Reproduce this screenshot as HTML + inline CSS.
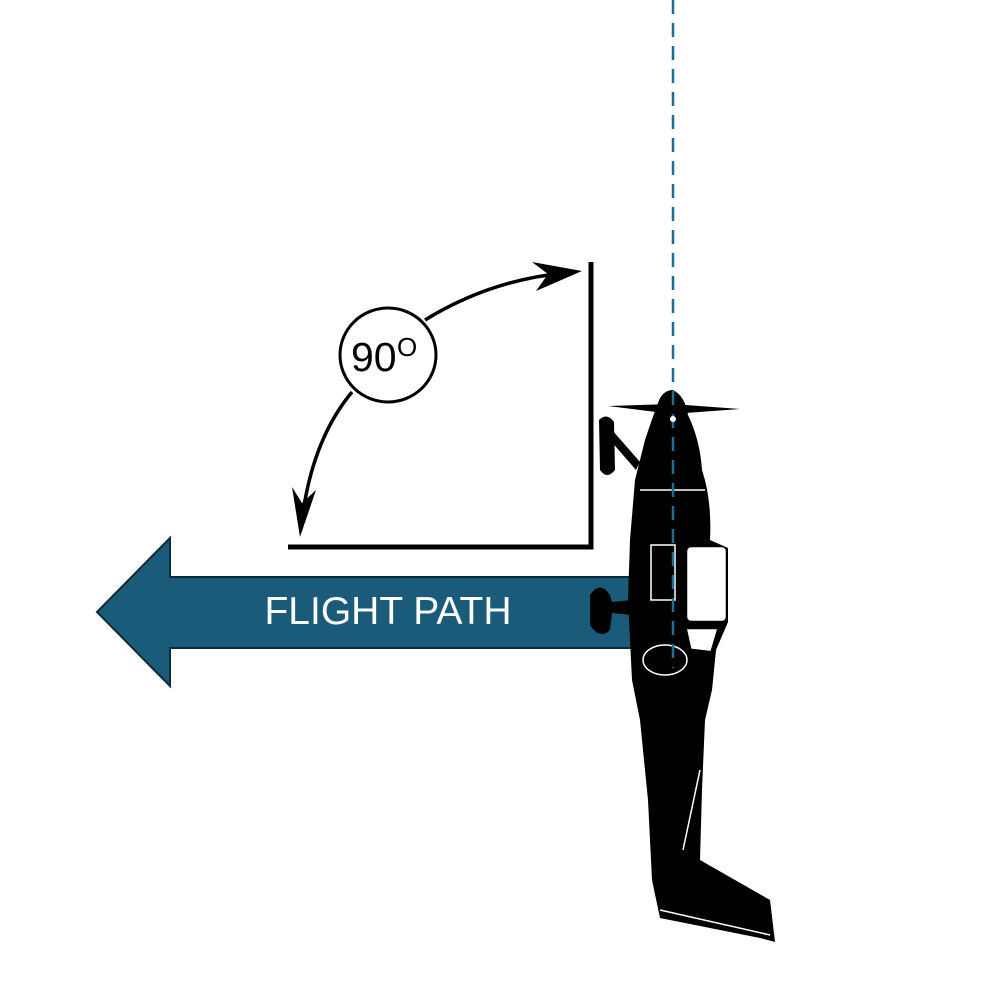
<!DOCTYPE html>
<html><head><style>html,body{margin:0;padding:0;background:#fff}</style></head>
<body>
<svg width="1000" height="1000" viewBox="0 0 1000 1000" xmlns="http://www.w3.org/2000/svg">
<!-- angle lines -->
<path d="M591 262 V547 H288" fill="none" stroke="#000" stroke-width="5"/>
<!-- arcs -->
<path d="M425 320 Q490 280 565 273" fill="none" stroke="#000" stroke-width="3.5"/>
<polygon points="582,271 532,262 548,274 536,291" fill="#000"/>
<path d="M352 392 Q312 440 302 520" fill="none" stroke="#000" stroke-width="3.5"/>
<polygon points="300,537 292,487 302,503 316,490" fill="#000"/>
<ellipse cx="388" cy="355" rx="48" ry="47" fill="#fff" stroke="#000" stroke-width="3"/>
<text x="351" y="371" font-family="Liberation Sans, sans-serif" font-size="41" fill="#000">90</text>
<text x="397" y="356" font-family="Liberation Sans, sans-serif" font-size="26" fill="#000">O</text>
<!-- flight path arrow -->
<polygon points="97,612 170,538 170,577 636,577 636,648 170,648 170,686" fill="#1b5b7a" stroke="#0c2a3a" stroke-width="2"/>
<text x="388" y="624" text-anchor="middle" font-family="Liberation Sans, sans-serif" font-size="39" fill="#fff">FLIGHT PATH</text>
<!-- airplane -->
<g fill="#000">
  <path d="M608 406 L672 404 L740 409 L672 414 Z"/>
  <path d="M599 420 Q607 412 614 422 L615 470 Q607 480 600 470 Z"/>
  <path d="M612 430 L640 462 L636 470 L610 440 Z"/>
  <path d="M673 390 Q685 396 688 415 Q700 440 702 470 Q712 500 710 540 L728 548 L728 622 L716 650 L712 690 L705 720 L702 790 L700 860 L770 900 L775 942 L760 938 L660 918 L652 880 L648 800 L640 720 L632 680 L628 600 L630 540 L635 480 L645 440 Q655 410 660 398 Q665 390 673 390 Z"/>
  <path d="M590 595 Q600 580 610 595 L612 602 L632 600 L632 615 L612 613 L610 630 Q600 640 590 625 Z"/>
</g>
<g fill="none" stroke="#fff" stroke-width="1.5">
  <rect x="688" y="548" width="37" height="72" rx="3" fill="#fff"/>
  <path d="M688 630 L716 630 L710 650 L692 648 Z" fill="#fff"/>
  <line x1="640" y1="490" x2="705" y2="490"/>
  <ellipse cx="665" cy="660" rx="22" ry="15"/>
  <path d="M651 545 L675 545 L675 600 L651 600 Z"/>
  <line x1="660" y1="910" x2="770" y2="935"/>
  <line x1="683" y1="850" x2="700" y2="770"/>
</g>
<!-- dashed center line -->
<line x1="673" y1="0" x2="673" y2="668" stroke="#1b6f95" stroke-width="2.5" stroke-dasharray="14,9"/>
<circle cx="673" cy="419" r="3" fill="#fff"/>
</svg>
</body></html>
